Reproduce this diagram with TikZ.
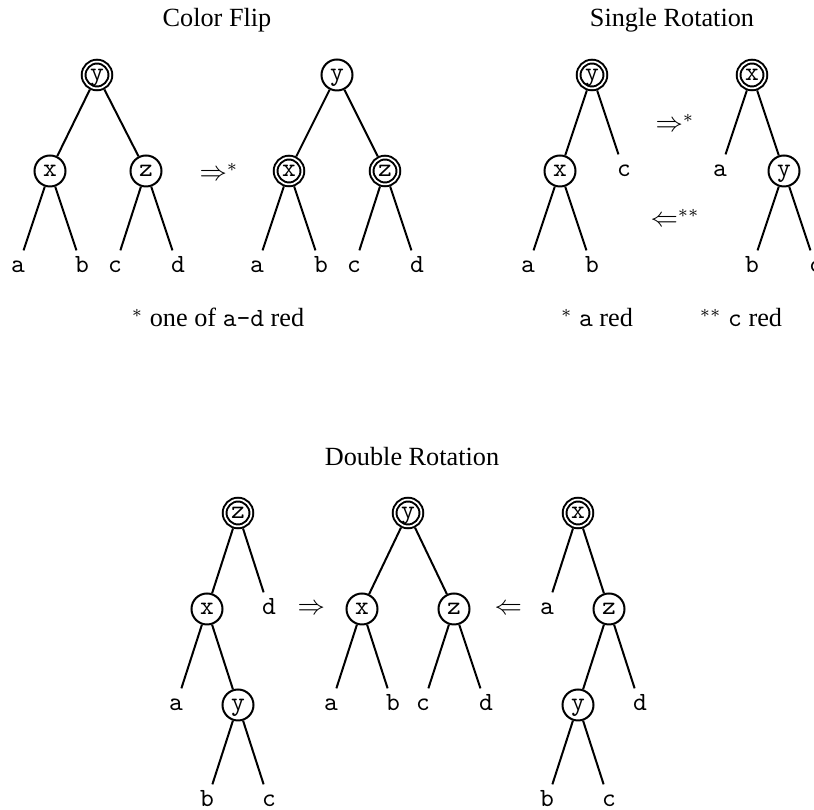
\documentclass[tikz,border=0pt]{standalone}
\usepackage{fontspec}
\setmainfont{Liberation Serif}
\usepackage{amsmath}

\begin{document}
\begin{tikzpicture}[x=0.4pt,y=-0.4pt,
   every node/.style={inner sep=0pt},
   font=\fontsize{10.5}{12}\selectfont,
   vtx/.style={draw,circle,line width=0.8pt,minimum size=12.4pt,
      font=\ttfamily\fontsize{10.5}{12}\selectfont,text height=1ex,text depth=0pt},
   blk/.style={vtx,double,double distance=0.7pt,minimum size=10.7pt,outer sep=1.15pt},
   leaf/.style={circle,minimum size=13.6pt,
      font=\ttfamily\fontsize{10.5}{12}\selectfont,text height=1ex,text depth=0pt},
   edge/.style={line width=0.8pt}]
\useasboundingbox (0,0) rectangle (814,810);
\clip (0,0) rectangle (814,810);

% Color Flip
\node[anchor=base] (cfTitle) at (217,27) {Color Flip};
\node[blk] (fly) at (97,75) {y};
\node[vtx] (flx) at (50,171) {x};
\node[vtx] (flz) at (146,171) {z};
\node[leaf] (fla) at (18,267) {a};
\node[leaf] (flb) at (82,267) {b};
\node[leaf] (flc) at (115,267) {c};
\node[leaf] (fld) at (178,267) {d};
\node[anchor=base west] (cfArrow) at (199,181) {$\Rightarrow^*$};
\node[vtx] (fry) at (337,75) {y};
\node[blk] (frx) at (289,171) {x};
\node[blk] (frz) at (385,171) {z};
\node[leaf] (fra) at (257,267) {a};
\node[leaf] (frb) at (321,267) {b};
\node[leaf] (frc) at (354,267) {c};
\node[leaf] (frd) at (417,267) {d};
\node[anchor=base] (cfNote) at (218,327) {$^*$ one of \texttt{a-d} red};

% Single Rotation
\node[anchor=base] (srTitle) at (672,27) {Single Rotation};
\node[blk] (sly) at (592,75) {y};
\node[vtx] (slx) at (560,171) {x};
\node[leaf] (slc) at (624,171) {c};
\node[leaf] (sla) at (528,267) {a};
\node[leaf] (slb) at (592,267) {b};
\node[anchor=base west] (srRight) at (655,132) {$\Rightarrow^*$};
\node[anchor=base west] (srLeft) at (650,227) {$\Leftarrow^{**}$};
\node[blk] (srx) at (752,75) {x};
\node[leaf] (sra) at (720,171) {a};
\node[vtx] (sry) at (784,171) {y};
\node[leaf] (srb) at (752,267) {b};
\node[leaf] (src) at (816,267) {c};
\node[anchor=base] (srNoteA) at (597,327) {$^*$ \texttt{a} red};
\node[anchor=base] (srNoteC) at (741,327) {$^{**}$ \texttt{c} red};

% Double Rotation
\node[anchor=base] (drTitle) at (412,466) {Double Rotation};
\node[blk] (dlz) at (238,513) {z};
\node[vtx] (dlx) at (207,609) {x};
\node[leaf] (dld) at (269,609) {d};
\node[leaf] (dla) at (176,705) {a};
\node[vtx] (dly) at (238,705) {y};
\node[leaf] (dlb) at (207,801) {b};
\node[leaf] (dlc) at (269,801) {c};
\node[anchor=base west] (drRight) at (297,615) {$\Rightarrow$};
\node[blk] (dmy) at (408,513) {y};
\node[vtx] (dmx) at (362,609) {x};
\node[vtx] (dmz) at (454,609) {z};
\node[leaf] (dma) at (331,705) {a};
\node[leaf] (dmb) at (393,705) {b};
\node[leaf] (dmc) at (423,705) {c};
\node[leaf] (dmd) at (486,705) {d};
\node[anchor=base west] (drLeft) at (494,615) {$\Leftarrow$};
\node[blk] (drx) at (578,513) {x};
\node[leaf] (dra) at (547,609) {a};
\node[vtx] (drz) at (609,609) {z};
\node[vtx] (dry) at (578,705) {y};
\node[leaf] (drd) at (640,705) {d};
\node[leaf] (drb) at (547,801) {b};
\node[leaf] (drc) at (609,801) {c};

% edges
\foreach \p/\c in {fly/flx,fly/flz,flx/fla,flx/flb,flz/flc,flz/fld,
   fry/frx,fry/frz,frx/fra,frx/frb,frz/frc,frz/frd,
   sly/slx,sly/slc,slx/sla,slx/slb,
   srx/sra,srx/sry,sry/srb,sry/src,
   dlz/dlx,dlz/dld,dlx/dla,dlx/dly,dly/dlb,dly/dlc,
   dmy/dmx,dmy/dmz,dmx/dma,dmx/dmb,dmz/dmc,dmz/dmd,
   drx/dra,drx/drz,drz/dry,drz/drd,dry/drb,dry/drc}
   \draw[edge] (\p) -- (\c);
\end{tikzpicture}
\end{document}
